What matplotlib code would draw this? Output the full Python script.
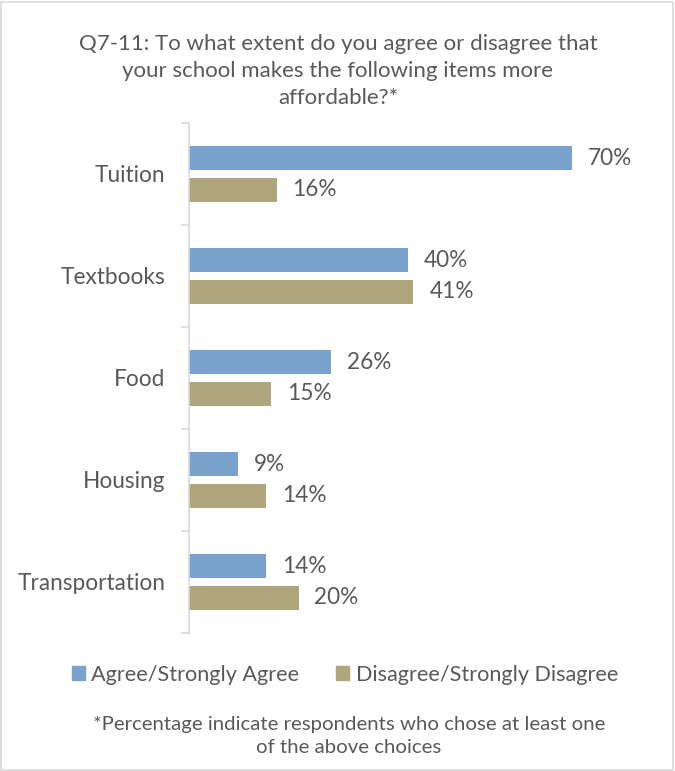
import matplotlib
matplotlib.use("Agg")
import matplotlib.pyplot as plt
from matplotlib.patches import Rectangle, Patch
import numpy as np

categories = ["Tuition", "Textbooks", "Food", "Housing", "Transportation"]
agree = [70, 40, 26, 9, 14]
disagree = [16, 41, 15, 14, 20]
series_names = ["Agree/Strongly Agree", "Disagree/Strongly Disagree"]
title = "Q7-11: To what extent do you agree or disagree that\nyour school makes the following items more\naffordable?*"
footnote = "*Percentage indicate respondents who chose at least one\nof the above choices"

BLUE = "#7BA1CD"
TAN = "#AFA67D"
TXT = "#595959"
GRID = "#D9D9D9"

plt.rcParams['font.family'] = ['Lato', 'DejaVu Sans']

W, H = 675, 771
fig = plt.figure(figsize=(W/100, H/100), dpi=100)
fig.patch.set_facecolor("white")
fig.add_artist(Rectangle((1/W, 1/H), 1 - 3/W, 1 - 3/H, transform=fig.transFigure,
                         fill=False, edgecolor=GRID, linewidth=1.2))

left, right_px = 189, 627
top, bottom = 123, 633
ax = fig.add_axes([left/W, 1 - bottom/H, (right_px-left)/W, (bottom-top)/H])
n = len(categories)
y = np.arange(n)
h = 0.24
off = 0.155
ax.barh(y - off, agree, height=h, color=BLUE)
ax.barh(y + off, disagree, height=h, color=TAN)
ax.set_ylim(n - 0.5, -0.5)
ax.set_xlim(0, 80)
for sp in ["top", "right", "bottom"]:
    ax.spines[sp].set_visible(False)
ax.spines["left"].set_color(GRID)
ax.spines["left"].set_linewidth(1.2)
ax.set_xticks([])
ax.set_yticks(np.arange(-0.5, n, 1.0))
ax.set_yticklabels([])
ax.tick_params(axis="y", length=6, color=GRID, width=1.2)
ax.set_yticks(y, minor=True)
ax.set_yticklabels(categories, minor=True, fontsize=16.3, color=TXT)
ax.tick_params(axis="y", which="minor", length=0, pad=17)

for i in range(n):
    ax.annotate(f"{agree[i]}%", (agree[i], y[i] - off), xytext=(11.5, 0), textcoords="offset points",
                va="center", ha="left", fontsize=16.3, color=TXT)
    ax.annotate(f"{disagree[i]}%", (disagree[i], y[i] + off), xytext=(11.5, 0), textcoords="offset points",
                va="center", ha="left", fontsize=16.3, color=TXT)

fig.text(338/W, 1 - 71/H, title, ha="center", va="center", fontsize=16, color=TXT, linespacing=1.45)

handles = [Patch(color=BLUE), Patch(color=TAN)]
fig.legend(handles, series_names, loc="center", bbox_to_anchor=(345/W, 1 - 675/H), ncol=2,
           frameon=False, fontsize=15.6, labelcolor=TXT, handlelength=0.6, handleheight=0.6,
           handletextpad=0.3, columnspacing=1.7)

fig.text(349/W, 1 - 736/H, footnote, ha="center", va="center", fontsize=14.7, color=TXT, linespacing=1.4)

fig.savefig("out.png", dpi=100, facecolor="white")
